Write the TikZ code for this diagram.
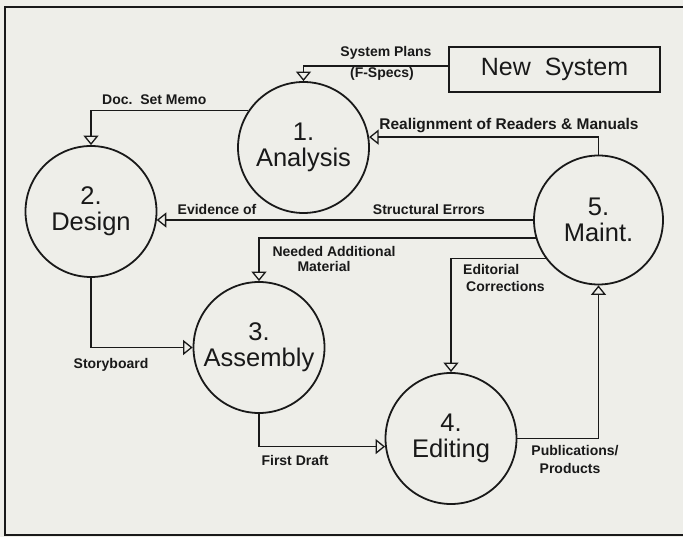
\documentclass[tikz,border=0pt]{standalone}
\usepackage{fontspec}
\setmainfont{Liberation Sans}
\usetikzlibrary{arrows.meta}
\definecolor{paper}{RGB}{238,238,233}
\definecolor{ink}{RGB}{25,25,25}
\begin{document}
\begin{tikzpicture}[x=1pt,y=-1pt,
  proc/.style={circle, draw=ink, line width=1.8pt, minimum size=131pt, inner sep=0pt,
    align=center, text=ink, font=\fontsize{25.5}{26}\selectfont},
  ext/.style={draw=ink, line width=1.8pt, minimum width=211pt, minimum height=45pt,
    inner sep=0pt, text=ink, font=\fontsize{25}{26}\selectfont},
  flow/.style={draw=ink, line width=1.3pt,
    -{Triangle[open, width=15pt, length=9.5pt, line width=1.3pt]}},
  lab/.style={inner sep=0pt, text=ink, font=\fontsize{14}{15}\selectfont\bfseries},
  frame/.style={draw=ink, line width=1.2pt}]
\fill[paper] (0,0) rectangle (683,537);
\useasboundingbox (0,0) rectangle (683,537);
\draw[frame] (683,7) -- (5,7) -- (5,535) -- (683,535);

% processes
\node[proc] (a1) at (303.5,147.5) {1.\\Analysis};
\node[proc] (a2) at (91,211.5) {2.\\Design};
\node[proc] (a3) at (259,347.5) {3.\\Assembly};
\node[proc] (a4) at (451,438.5) {4.\\Editing};
\node[proc, minimum size=129pt] (a5) at (598.5,220) {5.\\Maint.};
\node[ext] (ns) at (554.5,69.5) {New\ \ System};

% flows
\draw[flow] ([yshift=3.5pt]ns.west) -| (a1.north);
\draw[flow] (a1.146) -| (a2.north);
\draw[flow] (a5.north) |- (a1.9);
\draw[flow] (a5.west) -- (a5.west -| a2.-8);
\draw[flow] (a5.196) -| (a3.north);
\draw[flow] (a5.216) -| (a4.north);
\draw[flow] (a2.south) |- (a3.west);
\draw[flow] (a3.south) |- (a4.187);
\draw[flow] (a4.east) -| (a5.south);

% labels
\node[lab] (l1) at (386,53) {System Plans};
\node[lab] (l2) at (382,74) {(F-Specs)};
\node[lab, anchor=west] (l3) at (102,100) {Doc.\ \ Set Memo};
\node[lab, font=\fontsize{15.5}{16}\selectfont\bfseries] (l4) at (509,126) {Realignment of Readers \& Manuals};
\node[lab] (l5) at (217,209) {Evidence of};
\node[lab] (l6) at (429,209) {Structural Errors};
\node[lab] (l7) at (334,251) {Needed Additional};
\node[lab] (l8) at (324,266) {Material};
\node[lab, anchor=west] (l9) at (463,269) {Editorial};
\node[lab, anchor=west] (l10) at (466,286) {Corrections};
\node[lab] (l11) at (111,365) {Storyboard};
\node[lab] (l12) at (295,460) {First Draft};
\node[lab] (l13) at (575,451) {Publications/};
\node[lab] (l14) at (570,468) {Products};
\end{tikzpicture}
\end{document}
